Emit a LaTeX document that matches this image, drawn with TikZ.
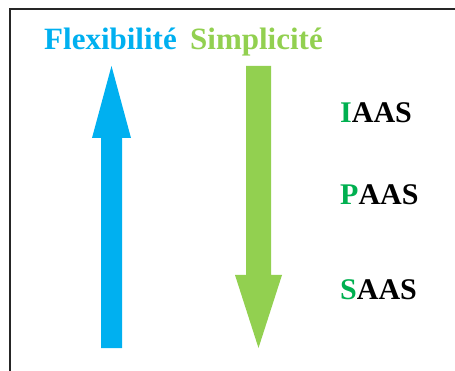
\documentclass[tikz,border=0pt]{standalone}
\usepackage{fontspec}
\setmainfont{Liberation Serif}
\usepackage{tikz}
\usetikzlibrary{positioning}
\usepackage{xcolor}
\definecolor{flexblue}{RGB}{0,176,240}
\definecolor{simplegreen}{RGB}{146,208,80}
\definecolor{initgreen}{RGB}{0,176,80}
\tikzstyle{title} = [inner sep=0pt, anchor=base west, font=\fontsize{31}{37}\selectfont\bfseries]
\tikzstyle{service} = [inner sep=0pt, anchor=base west, font=\fontsize{30}{36}\selectfont\bfseries]

\begin{document}
\begin{tikzpicture}[x=1pt, y=-1pt]
\clip (0,0) rectangle (455,371);
% Frame
\draw[line width=2pt, color=black!85] (10,9) rectangle (470,390);

% Titles
\node[title, text=flexblue] (flex) at (44,50) {Flexibilité};
\node[title, text=simplegreen] (simple) at (190,50) {Simplicité};

% Up arrow
\fill[flexblue] (101,348) -- (101,138) -- (92,138) -- (111.5,66) -- (131,138)
  -- (122,138) -- (122,348) -- cycle;

% Down arrow
\fill[simplegreen] (246,66) -- (246,275) -- (235,275) -- (258.5,348) -- (282,275)
  -- (271,275) -- (271,66) -- cycle;

% Service models
\node[service] (iaas) at (340,123) {\textcolor{initgreen}{I}AAS};
\node[service] (paas) at (340,205) {\textcolor{initgreen}{P}AAS};
\node[service] (saas) at (340,300) {\textcolor{initgreen}{S}AAS};
\end{tikzpicture}
\end{document}
